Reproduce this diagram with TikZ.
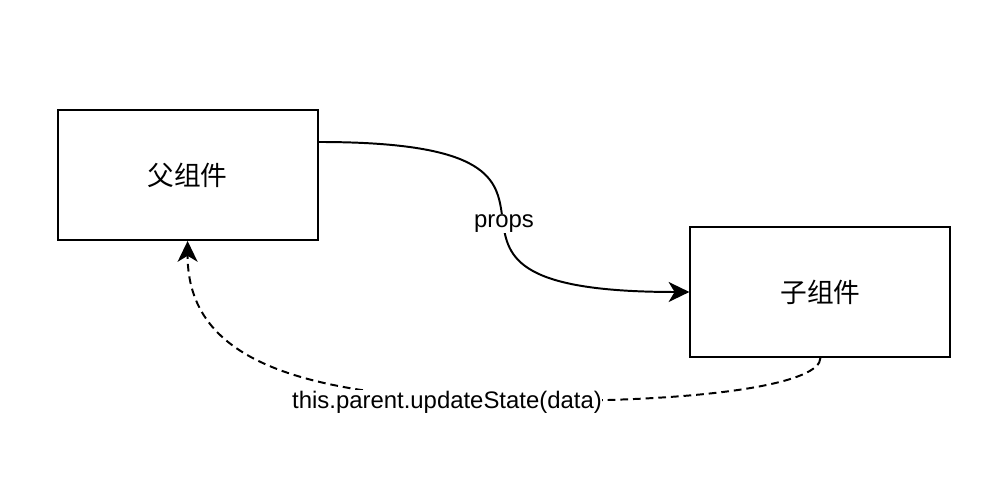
\documentclass[tikz,border=0pt]{standalone}
\usepackage{fontspec}
\setmainfont{Liberation Sans}
\newfontfamily\cjkfont{Noto Sans CJK SC}
\usetikzlibrary{arrows.meta}

\tikzset{
  compbox/.style={draw, line width=1.4pt, minimum width=6.5cm, minimum height=3.25cm,
    inner sep=0pt, font=\cjkfont\fontsize{19}{22}\selectfont},
  flowarrow/.style={line width=1.4pt, -{Stealth[length=0.52cm, width=0.5cm, inset=0.15cm]}},
  flowlabel/.style={fill=white, inner sep=0.5pt, font=\fontsize{17}{20}\selectfont},
}

\begin{document}
\begin{tikzpicture}
\useasboundingbox (0,0) rectangle (25.1,12.1);

% _____ Components
\def\ParentX{4.69}
\def\ParentY{7.725}
\def\ChildX{20.51}
\def\ChildY{4.8}

\node[compbox] (Parent) at (\ParentX, \ParentY) {父组件};
\node[compbox] (Child) at (\ChildX, \ChildY) {子组件};

% _____ props (parent to child)
\def\PropsOffset{0.825}
\def\PropsParam{8.6}

\draw[flowarrow] ([yshift=\PropsOffset cm]Parent.east)
    .. controls +(\PropsParam, 0) and +(-\PropsParam, 0)
    .. (Child.west) node[midway, yshift=-0.17cm, flowlabel] (Props) {props};

% _____ callback (child to parent)
\def\UpdDipX{13.5}
\def\UpdDipY{2.075}
\def\UpdDown{0.6}
\def\UpdRight{4.5}
\def\UpdLeft{6.0}
\def\UpdUp{3.0}

\coordinate (UpdDip) at (\UpdDipX, \UpdDipY);

\draw[flowarrow, dash pattern=on 5.5pt off 3.5pt] (Child.south)
    .. controls +(0, -\UpdDown) and +(\UpdRight, 0)
    .. (UpdDip)
    .. controls +(-\UpdLeft, 0) and +(0, -\UpdUp)
    .. (Parent.south);

\node[flowlabel] (Upd) at (11.175, 2.05) {this.parent.updateState(data)};

\end{tikzpicture}
\end{document}
